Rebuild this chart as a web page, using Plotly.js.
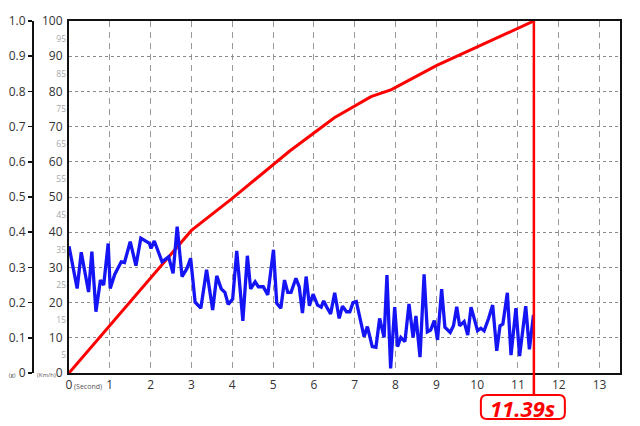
<!DOCTYPE html>
<html>
<head>
<meta charset="utf-8">
<script src="https://cdn.plot.ly/plotly-3.0.1.min.js"></script>
<style>html,body{margin:0;padding:0;background:#fff;}#chart{width:640px;height:426px;}</style>
</head>
<body>
<div id="chart"></div>
<script>
// ---- data ----
const speedTime = [0, 3.0, 4.0, 5.4, 6.5, 7.4, 7.9, 9.0, 11.39];
const speedKmh  = [0, 40.5, 49.6, 63.0, 72.5, 78.5, 80.5, 87.3, 100];

const gTime = [0.00,0.20,0.30,0.48,0.56,0.66,0.77,0.85,0.96,1.01,1.12,1.28,1.36,1.50,1.64,1.76,1.97,2.01,2.09,2.28,2.44,2.55,2.65,2.77,2.89,2.98,
  3.09,3.23,3.37,3.52,3.62,3.73,3.82,3.90,4.01,4.11,4.26,4.37,4.45,4.56,4.64,4.76,4.87,5.01,5.09,5.19,5.28,5.36,5.44,5.56,5.64,5.72,5.81,5.89,5.98,
  6.09,6.18,6.24,6.31,6.41,6.51,6.62,6.70,6.80,6.88,6.96,7.04,7.23,7.31,7.43,7.52,7.61,7.72,7.79,7.88,7.98,8.05,8.13,8.23,8.33,8.43,8.50,8.60,8.70,8.78,8.86,8.95,
  9.03,9.13,9.21,9.34,9.42,9.50,9.57,9.68,9.77,9.85,10.01,10.09,10.17,10.28,10.38,10.48,10.56,10.63,10.74,10.83,10.95,11.04,11.19,11.28,11.38];
const gValue = [0.360,0.240,0.343,0.230,0.345,0.174,0.264,0.250,0.368,0.240,0.280,0.316,0.314,0.373,0.305,0.383,0.368,0.354,0.375,0.316,0.330,0.283,0.416,0.274,0.297,0.326,
  0.201,0.184,0.293,0.179,0.276,0.239,0.229,0.195,0.210,0.347,0.148,0.333,0.239,0.259,0.245,0.245,0.222,0.350,0.198,0.184,0.264,0.229,0.229,0.269,0.245,0.170,0.274,0.191,0.224,
  0.193,0.187,0.205,0.188,0.168,0.228,0.155,0.190,0.174,0.174,0.200,0.203,0.103,0.132,0.075,0.073,0.155,0.101,0.278,0.013,0.187,0.075,0.101,0.089,0.196,0.101,0.162,0.045,0.280,0.117,0.122,0.149,
  0.094,0.238,0.130,0.115,0.134,0.188,0.134,0.146,0.108,0.187,0.120,0.127,0.120,0.155,0.193,0.063,0.134,0.139,0.228,0.051,0.184,0.048,0.190,0.067,0.165];

const finishTime = 11.39;
const finishLabel = '11.39s';

const xTicks = [0,1,2,3,4,5,6,7,8,9,10,11,12,13];
const speedTicks = [0,10,20,30,40,50,60,70,80,90,100];
const speedMinorTicks = [5,15,25,35,45,55,65,75,85,95];
const gTicks = [0,0.1,0.2,0.3,0.4,0.5,0.6,0.7,0.8,0.9,1.0];
const gTickText = ['0','0.1','0.2','0.3','0.4','0.5','0.6','0.7','0.8','0.9','1.0'];

// ---- geometry helpers ----
const W = 640, H = 426, ML = 30, MR = 20, MT = 21, MB = 53;
const plotW = W - ML - MR, plotH = H - MT - MB;
const xMax = 13.5;
const xDomStart = 39 / plotW;
const pxPerX = plotW * (1 - xDomStart) / xMax;
const dX = px => px / pxPerX;
const pY = px => px / plotH;

const unitSpan = t => "<span style='font-size:6px;color:#555'>" + t + "</span>";
const speedTickText = speedTicks.map(v => v === 0 ? unitSpan('(Km/h)') + '0' : String(v));
const gText = gTickText.map((t, i) => i === 0 ? unitSpan('(g)') + ' ' + t : t);

// rounded label box below the axis
const boxTop = -pY(22), boxBot = -pY(46);
const boxL = finishTime - dX(53), boxR = finishTime + dX(31);
const rx = dX(6), ry = pY(6);
const boxPath = `M ${boxL+rx} ${boxTop} L ${boxR-rx} ${boxTop} Q ${boxR} ${boxTop} ${boxR} ${boxTop-ry} L ${boxR} ${boxBot+ry} Q ${boxR} ${boxBot} ${boxR-rx} ${boxBot} L ${boxL+rx} ${boxBot} Q ${boxL} ${boxBot} ${boxL} ${boxBot+ry} L ${boxL} ${boxTop-ry} Q ${boxL} ${boxTop} ${boxL+rx} ${boxTop} Z`;

const traces = [
  {x: speedTime, y: speedKmh, type: 'scatter', mode: 'lines', line: {color: '#ff0000', width: 3}, yaxis: 'y', hoverinfo: 'skip'},
  {x: gTime, y: gValue, type: 'scatter', mode: 'lines', line: {color: '#1414f5', width: 3.3}, yaxis: 'y2', hoverinfo: 'skip'},
  {x: [], y: [], type: 'scatter', yaxis: 'y3', hoverinfo: 'skip'}
];

const layout = {
  width: W, height: H,
  margin: {l: ML, r: MR, t: MT, b: MB, pad: 0},
  paper_bgcolor: '#ffffff', plot_bgcolor: '#ffffff',
  showlegend: false,
  font: {family: 'Open Sans, sans-serif', size: 12, color: '#333'},
  xaxis: {
    domain: [xDomStart, 1], range: [0, xMax], fixedrange: true,
    tickvals: xTicks, ticktext: xTicks.map(String), ticks: '',
    showgrid: true, gridcolor: '#9a9a9a', gridwidth: 1, griddash: '6px,5px',
    showline: true, linecolor: '#111', linewidth: 2, mirror: true, zeroline: false,
    tickfont: {size: 12, color: '#333'}, automargin: false
  },
  yaxis: {
    range: [0, 100], fixedrange: true,
    tickvals: speedTicks, ticktext: speedTickText, ticks: '', ticklabelstandoff: 2,
    showgrid: true, gridcolor: '#8a8a8a', gridwidth: 1, griddash: '3px,3px',
    showline: true, linecolor: '#111', linewidth: 2, mirror: true, zeroline: false,
    tickfont: {size: 12, color: '#333'}, automargin: false
  },
  yaxis3: {
    overlaying: 'y', anchor: 'x', side: 'left', range: [0, 100], fixedrange: true,
    tickvals: speedMinorTicks, ticktext: speedMinorTicks.map(String), ticks: '', ticklabelstandoff: 2,
    showgrid: false, showline: false, zeroline: false,
    tickfont: {size: 8.5, color: '#a8a8a8'}, automargin: false
  },
  yaxis2: {
    overlaying: 'y', anchor: 'free', position: 3 / plotW, side: 'left', range: [0, 1], fixedrange: true,
    tickvals: gTicks, ticktext: gText, ticks: 'outside', ticklen: 4, tickwidth: 1.5, tickcolor: '#111',
    showgrid: false, showline: true, linecolor: '#111', linewidth: 2, zeroline: false,
    tickfont: {size: 12, color: '#333'}, automargin: false
  },
  shapes: [
    {type: 'line', xref: 'x', yref: 'paper', x0: finishTime, x1: finishTime,
     y0: speedKmh[speedKmh.length - 1] / 100, y1: boxTop, line: {color: '#ff0000', width: 2.5}},
    {type: 'path', xref: 'x', yref: 'paper', path: boxPath, fillcolor: '#ffffff', line: {color: '#ff0000', width: 2}}
  ],
  annotations: [
    {x: 0, xref: 'x', y: -pY(13), yref: 'paper', xanchor: 'left', yanchor: 'middle', xshift: 3,
     text: '(Second)', showarrow: false, font: {size: 7, color: '#555'}},
    {x: (boxL + boxR) / 2, xref: 'x', y: (boxTop + boxBot) / 2, yref: 'paper', xanchor: 'center', yanchor: 'middle',
     yshift: -1, text: '<b><i>' + finishLabel + '</i></b>', showarrow: false,
     font: {size: 22, color: '#ff0000', family: 'Open Sans, sans-serif'}}
  ]
};

Plotly.newPlot('chart', traces, layout, {displayModeBar: false, staticPlot: true});
</script>
</body>
</html>
